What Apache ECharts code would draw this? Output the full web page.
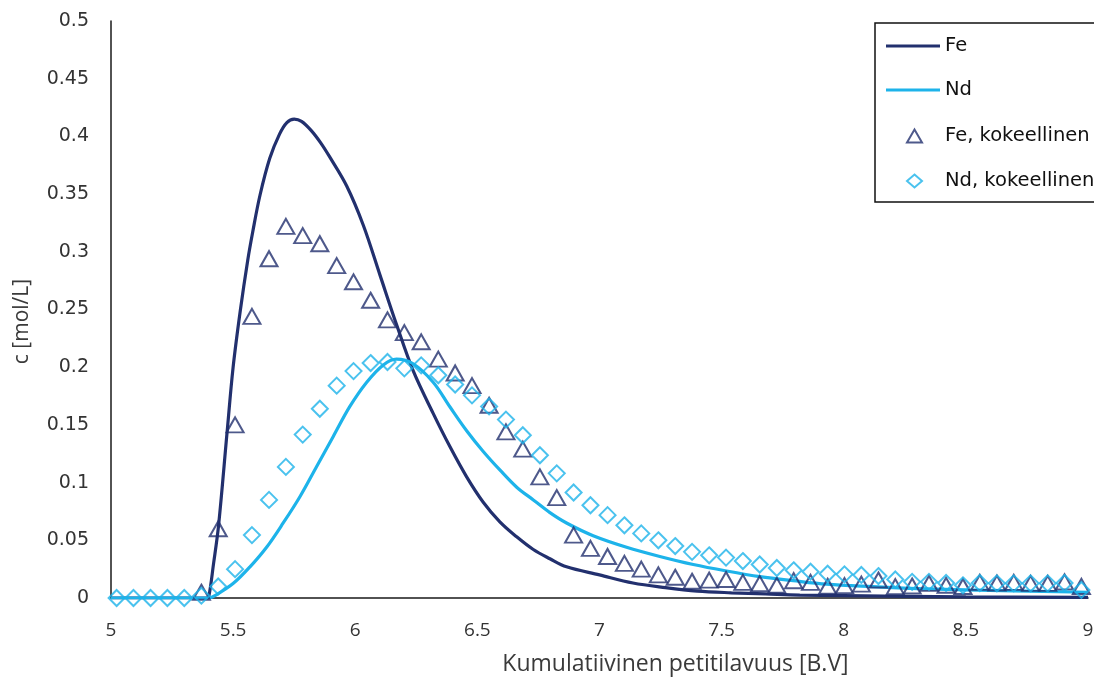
<!DOCTYPE html>
<html>
<head>
<meta charset="utf-8">
<script src="https://cdn.jsdelivr.net/npm/echarts@6/dist/echarts.min.js"></script>
<style>
html,body{margin:0;padding:0;background:#fff;}
#chart{width:1094px;height:677px;}
</style>
</head>
<body>
<div id="chart"></div>
<script>
// Experimental sample positions (B.V)
const xExp = [5.023, 5.092, 5.162, 5.231, 5.300, 5.370, 5.439, 5.508, 5.577, 5.647,
  5.716, 5.785, 5.855, 5.924, 5.993, 6.063, 6.132, 6.201, 6.270, 6.340,
  6.409, 6.478, 6.548, 6.617, 6.686, 6.756, 6.825, 6.894, 6.963, 7.033,
  7.102, 7.171, 7.241, 7.310, 7.379, 7.449, 7.518, 7.587, 7.656, 7.726,
  7.795, 7.864, 7.934, 8.003, 8.072, 8.142, 8.211, 8.280, 8.349, 8.419,
  8.488, 8.557, 8.627, 8.696, 8.765, 8.835, 8.904, 8.973];
// Fe, kokeellinen (null = no point)
const feExp = [null, null, null, null, null, 0.005, 0.060, 0.150, 0.244, 0.294,
  0.322, 0.314, 0.307, 0.288, 0.274, 0.258, 0.241, 0.230, 0.222, 0.207,
  0.195, 0.184, 0.167, 0.144, 0.129, 0.105, 0.087, 0.0545, 0.043, 0.036,
  0.030, 0.025, 0.020, 0.018, 0.0145, 0.0155, 0.016, 0.0135, 0.0125, 0.011,
  0.015, 0.0135, 0.0102, 0.0107, 0.012, 0.0156, 0.0098, 0.0104, 0.0127, 0.011,
  0.010, 0.0135, 0.013, 0.0135, 0.0127, 0.0127, 0.014, 0.010];
// Nd, kokeellinen
const ndExp = [0, 0, 0, 0, 0, 0.002, 0.010, 0.025, 0.0545, 0.085,
  0.1136, 0.1416, 0.164, 0.184, 0.1966, 0.2036, 0.2045, 0.199, 0.2016, 0.193,
  0.185, 0.1756, 0.166, 0.1546, 0.141, 0.1237, 0.108, 0.0914, 0.0804, 0.0718,
  0.063, 0.056, 0.050, 0.045, 0.040, 0.037, 0.035, 0.032, 0.029, 0.026,
  0.024, 0.0228, 0.021, 0.0205, 0.020, 0.019, 0.016, 0.014, 0.014, 0.013,
  0.011, 0.013, 0.0127, 0.0127, 0.0127, 0.0127, 0.013, 0.007];
// Fe model curve
const feLineX = [5.00, 5.30, 5.39, 5.40, 5.42, 5.44, 5.475, 5.50, 5.53, 5.56, 5.58, 5.61,
  5.65, 5.69, 5.72, 5.75, 5.78, 5.82, 5.86, 5.896, 5.965, 6.033, 6.101, 6.169,
  6.237, 6.319, 6.388, 6.456, 6.524, 6.592, 6.661, 6.729, 6.797, 6.865,
  7.00, 7.137, 7.27, 7.40, 7.54, 7.68, 7.82, 8.00, 8.50, 9.00];
const feLineY = [0, 0, 0, 0.001, 0.030, 0.062, 0.143, 0.200, 0.250, 0.293, 0.317, 0.349,
  0.381, 0.402, 0.412, 0.415, 0.413, 0.405, 0.394, 0.382, 0.357, 0.323, 0.280, 0.237,
  0.197, 0.160, 0.131, 0.105, 0.083, 0.066, 0.053, 0.042, 0.034, 0.027,
  0.020, 0.013, 0.009, 0.006, 0.0045, 0.0035, 0.0025, 0.002, 0.001, 0.0005];
// Nd model curve
const ndLineX = [5.00, 5.30, 5.40, 5.433, 5.501, 5.569, 5.637, 5.705, 5.774, 5.842, 5.910,
  5.978, 6.047, 6.115, 6.169, 6.237, 6.319, 6.388, 6.456, 6.524, 6.592,
  6.661, 6.729, 6.797, 6.865, 6.974, 7.111, 7.247, 7.384, 7.520, 7.657,
  7.793, 7.930, 8.20, 8.50, 9.00];
const ndLineY = [0, 0, 0, 0.003, 0.0127, 0.027, 0.044, 0.065, 0.088, 0.114, 0.140,
  0.166, 0.187, 0.202, 0.207, 0.203, 0.187, 0.1655, 0.145, 0.127, 0.111,
  0.096, 0.085, 0.074, 0.065, 0.054, 0.044, 0.036, 0.029, 0.0234, 0.0185,
  0.015, 0.012, 0.009, 0.007, 0.005];
const xTicks = {min: 5, max: 9, interval: 0.5};
const yTicks = {min: 0, max: 0.5, interval: 0.05};
const seriesNames = ['Fe', 'Nd', 'Fe, kokeellinen', 'Nd, kokeellinen'];
const xTitle = 'Kumulatiivinen petitilavuus [B.V]';
const yTitle = 'c [mol/L]';

const FE = '#22306e';
const ND = '#1db3ea';
const pair = (xs, ys) => xs.map((x, i) => [x, ys[i]]).filter(p => p[1] !== null);
const legendText = {fontFamily: 'DejaVu Sans', fontSize: 19.5, color: '#111', lineHeight: 20};

const chart = echarts.init(document.getElementById('chart'), null, {renderer: 'canvas'});
chart.setOption({
  animation: false,
  backgroundColor: '#ffffff',
  grid: {left: 111, right: 6, top: 21, bottom: 79, containLabel: false, outerBoundsMode: 'none'},
  xAxis: {
    type: 'value', min: xTicks.min, max: xTicks.max, interval: xTicks.interval,
    name: xTitle, nameLocation: 'middle', nameGap: 55,
    nameTextStyle: {fontFamily: 'Open Sans', fontSize: 23, color: '#3a3a3a', padding: [0, 0, 0, 152]},
    axisLine: {lineStyle: {color: '#1a1a1a', width: 1.5}},
    axisTick: {show: false},
    splitLine: {show: false},
    axisLabel: {margin: 23, fontFamily: 'Open Sans', fontSize: 19, color: '#333'}
  },
  yAxis: {
    type: 'value', min: yTicks.min, max: yTicks.max, interval: yTicks.interval,
    name: yTitle, nameLocation: 'middle', nameGap: 78,
    nameTextStyle: {fontFamily: 'Open Sans', fontSize: 21, color: '#3a3a3a', padding: [0, 24, 0, 0]},
    axisLine: {show: true, lineStyle: {color: '#1a1a1a', width: 1.5}},
    axisTick: {show: false},
    splitLine: {show: false},
    axisLabel: {margin: 22, fontFamily: 'DejaVu Sans', fontSize: 19, color: '#333'}
  },
  legend: [
    {
      orient: 'vertical', left: 875, top: 23,
      padding: [13, 160, 102, 11],
      itemWidth: 54, itemHeight: 3, itemGap: 24,
      borderColor: '#111', borderWidth: 1.5,
      backgroundColor: '#fff',
      textStyle: legendText,
      data: [{name: seriesNames[0], icon: 'rect'}, {name: seriesNames[1], icon: 'rect'}]
    },
    {
      orient: 'vertical', left: 906, top: 126, padding: 0,
      itemWidth: 15, itemHeight: 13, itemGap: 25,
      textStyle: Object.assign({}, legendText, {padding: [0, 0, 0, 18]}),
      data: [{name: seriesNames[2], icon: 'triangle'},
             {name: seriesNames[3], icon: 'diamond'}]
    }
  ],
  series: [
    {name: seriesNames[0], type: 'line', data: pair(feLineX, feLineY), smooth: 0.35,
     symbol: 'none', lineStyle: {color: FE, width: 3.2}, itemStyle: {color: FE}, z: 2},
    {name: seriesNames[1], type: 'line', data: pair(ndLineX, ndLineY), smooth: 0.35,
     symbol: 'none', lineStyle: {color: ND, width: 3.2}, itemStyle: {color: ND}, z: 2},
    {name: seriesNames[2], type: 'scatter', data: pair(xExp, feExp), symbol: 'triangle', symbolSize: [17, 15],
     itemStyle: {color: 'rgba(255,255,255,0)', borderColor: FE, borderWidth: 2}, z: 3},
    {name: seriesNames[3], type: 'scatter', data: pair(xExp, ndExp), symbol: 'diamond', symbolSize: [16, 16],
     itemStyle: {color: 'rgba(255,255,255,0)', borderColor: ND, borderWidth: 2}, z: 3}
  ]
});
</script>
</body>
</html>
